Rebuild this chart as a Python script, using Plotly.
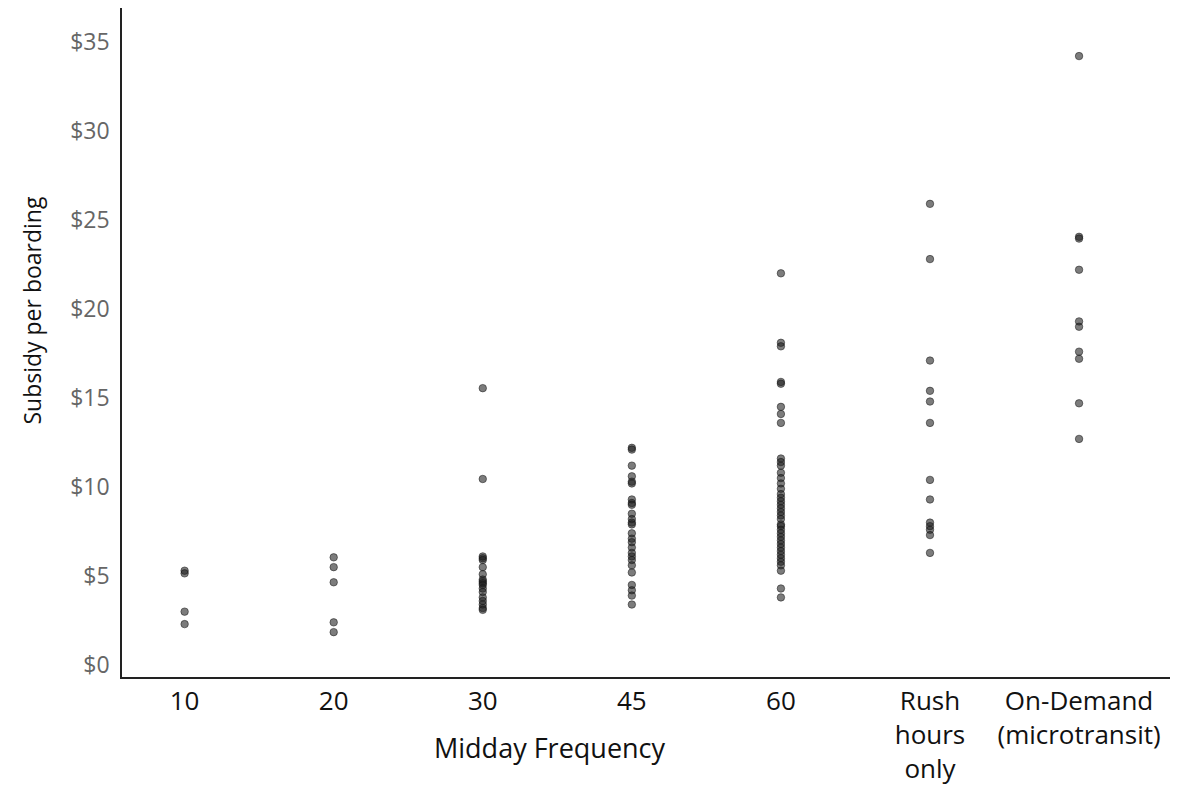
import plotly.graph_objects as go

# Categories on the x axis
categories = ['10', '20', '30', '45', '60', 'Rush<br>hours<br>only', 'On-Demand<br>(microtransit)']

# Subsidy per boarding ($) for each route, grouped by midday frequency
freq_10 = [5.3, 5.15, 3.0, 2.3]
freq_20 = [6.05, 5.5, 4.65, 2.4, 1.85]
freq_30 = [15.55, 10.45, 6.1, 6.0, 5.9, 5.5, 5.1, 4.8, 4.7, 4.6, 4.5, 4.3, 4.1, 3.8, 3.6, 3.4, 3.2, 3.1]
freq_45 = [12.2, 12.1, 11.2, 10.6, 10.3, 10.2, 9.3, 9.1, 9.0, 8.5, 8.2, 8.0, 7.9, 7.4, 7.1,
           6.9, 6.6, 6.3, 6.1, 5.9, 5.6, 5.2, 4.5, 4.2, 3.9, 3.4]
freq_60 = [22.0, 18.1, 17.9, 15.9, 15.8, 14.5, 14.1, 13.6, 11.6, 11.4, 11.2, 10.8, 10.5, 10.2,
           9.9, 9.6, 9.4, 9.2, 9.0, 8.8, 8.6, 8.4, 8.2, 7.9, 7.8, 7.6, 7.4, 7.2, 7.0, 6.8, 6.6,
           6.4, 6.2, 6.0, 5.8, 5.6, 5.3, 4.3, 3.8]
rush_only = [25.9, 22.8, 17.1, 15.4, 14.8, 13.6, 10.4, 9.3, 8.0, 7.8, 7.6, 7.3, 6.3]
on_demand = [34.2, 24.05, 23.95, 22.2, 19.3, 19.0, 17.6, 17.2, 14.7, 12.7]

groups = [freq_10, freq_20, freq_30, freq_45, freq_60, rush_only, on_demand]

xs, ys = [], []
for i, vals in enumerate(groups):
    xs += [i] * len(vals)
    ys += vals

fig = go.Figure()
fig.add_trace(go.Scatter(
    x=xs, y=ys, mode='markers',
    marker=dict(size=7.5, color='rgba(30,30,30,0.58)',
                line=dict(width=1, color='rgba(20,20,20,0.5)')),
    showlegend=False, hoverinfo='y'))

# page body has an 8px margin, so the figure is a bit smaller than the window
fig.update_layout(
    width=1178, height=778,
    margin=dict(l=114, r=16, t=0, b=109),
    plot_bgcolor='white', paper_bgcolor='white',
    font=dict(family='Open Sans, Lato, sans-serif', color='#222'),
    xaxis=dict(range=[-0.42, 6.61], tickmode='array', tickvals=list(range(len(categories))),
               ticktext=categories, showgrid=False, zeroline=False, automargin=False,
               showline=True, linecolor='#222', linewidth=1.5,
               ticks='', tickfont=dict(size=26, color='#111')),
    yaxis=dict(range=[-0.67, 36.9], tickvals=[0, 5, 10, 15, 20, 25, 30, 35],
               ticktext=['$0', '$5', '$10', '$15', '$20', '$25', '$30', '$35'],
               showgrid=False, zeroline=False, showline=True, linecolor='#222',
               automargin=False, linewidth=1.5, ticks='outside', ticklen=6,
               tickcolor='white', tickfont=dict(size=23, color='#666')),
    annotations=[
        dict(text='Midday Frequency', x=0.408, y=-0.105, xref='paper', yref='paper',
             showarrow=False, font=dict(size=27, color='#111'), yanchor='middle'),
        dict(text='Subsidy per boarding', x=-0.086, y=0.549, xref='paper', yref='paper',
             showarrow=False, textangle=-90, font=dict(size=23, color='#111'),
             xanchor='center', yanchor='middle'),
    ],
)

fig.write_html('out.html')
